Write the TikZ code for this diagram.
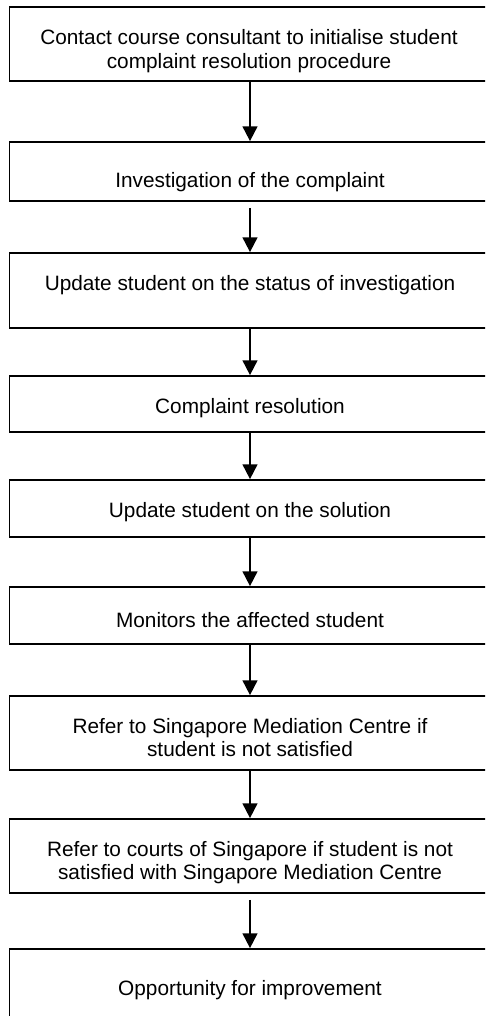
\documentclass[tikz,border=0pt]{standalone}
\usepackage{fontspec}
\setmainfont{Liberation Sans}
\usetikzlibrary{arrows.meta}

\begin{document}
\begin{tikzpicture}[
  x=0.75pt, y=-0.75pt,
  stepbox/.style={draw=black, line width=1.3pt, fill=white, rectangle,
    minimum width=500*0.75pt, inner sep=0pt},
  steptext/.style={align=center, inner sep=0pt,
    font=\fontsize{15.6}{17.8}\selectfont},
  flow/.style={line width=1.4pt,
    -{Triangle[length=11pt,width=11pt]}},
]
\useasboundingbox (0,0) rectangle (485,1016);
\clip (0,0) rectangle (485,1016);

% step boxes (they run on past the right and bottom edges of the page)
\node[stepbox, minimum height=74*0.75pt] (b1) at (259.5,44) {};
\node[stepbox, minimum height=59*0.75pt] (b2) at (259.5,171.5) {};
\node[stepbox, minimum height=75*0.75pt] (b3) at (259.5,290.5) {};
\node[stepbox, minimum height=56*0.75pt] (b4) at (259.5,404) {};
\node[stepbox, minimum height=57*0.75pt] (b5) at (259.5,508.5) {};
\node[stepbox, minimum height=57*0.75pt] (b6) at (259.5,615.5) {};
\node[stepbox, minimum height=74*0.75pt] (b7) at (259.5,733) {};
\node[stepbox, minimum height=74*0.75pt] (b8) at (259.5,856) {};
\node[stepbox, minimum height=82*0.75pt] (b9) at (259.5,990) {};

% step texts
\node[steptext] (t1) at (249,51) {Contact course consultant to initialise student\\complaint resolution procedure};
\node[steptext] (t2) at (250,182) {Investigation of the complaint};
\node[steptext] (t3) at (250,285) {Update student on the status of investigation};
\node[steptext] (t4) at (250,408) {Complaint resolution};
\node[steptext] (t5) at (250,512) {Update student on the solution};
\node[steptext] (t6) at (250,620) {Monitors the affected student};
\node[steptext] (t7) at (250,737.5) {Refer to Singapore Mediation Centre if\\student is not satisfied};
\node[steptext] (t8) at (250,862.5) {Refer to courts of Singapore if student is not\\satisfied with Singapore Mediation Centre};
\node[steptext] (t9) at (250,990) {Opportunity for improvement};

% connectors, all on the vertical line x = 250
\foreach \a/\b/\s in {b1/b2/0, b2/b3/4.5, b3/b4/0, b4/b5/0, b5/b6/0,
                      b6/b7/0, b7/b8/0, b8/b9/4.5}
  \draw[flow, shorten <=\s pt] (\a.south -| t2) -- (\b.north -| t2);
\end{tikzpicture}
\end{document}
